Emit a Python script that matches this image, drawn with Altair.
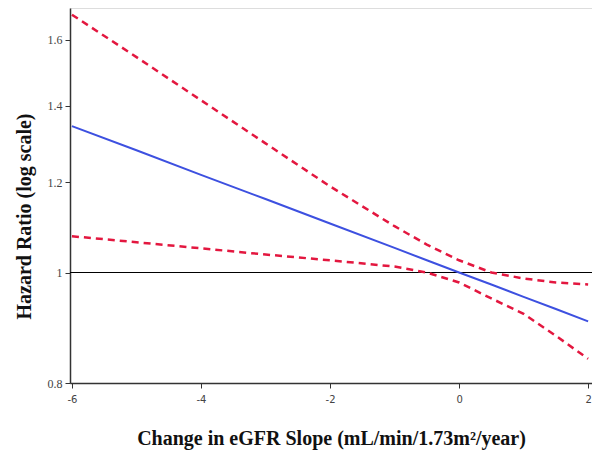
import altair as alt
import pandas as pd

# Values
x_vals = [-6, -5, -4, -3, -2, -1, -0.5, 0, 0.5, 1, 1.5, 2]
hr_est = [1.344, 1.280, 1.218, 1.160, 1.104, 1.051, 1.025, 1.0, 0.976, 0.952, 0.929, 0.906]
hr_upper = [1.683, 1.545, 1.416, 1.298, 1.190, 1.098, 1.058, 1.025, 1.0, 0.988, 0.980, 0.976]
hr_lower = [1.076, 1.063, 1.050, 1.037, 1.025, 1.012, 1.0, 0.980, 0.949, 0.920, 0.880, 0.840]

x_ticks = [-6, -4, -2, 0, 2]
y_ticks = [0.8, 1, 1.2, 1.4, 1.6]
ref_value = [1]

est_df = pd.DataFrame({"x": x_vals, "hr": hr_est})
ci_df = pd.concat([
    pd.DataFrame({"x": x_vals, "hr": hr_upper, "bound": "upper"}),
    pd.DataFrame({"x": x_vals, "hr": hr_lower, "bound": "lower"}),
])
ref_df = pd.DataFrame({"hr": ref_value})

x_scale = alt.Scale(domain=[-6.03, 2.06], nice=False, zero=False)
y_scale = alt.Scale(type="log", domain=[0.8, 1.706], nice=False, zero=False)

x_axis = alt.Axis(
    values=x_ticks, title="Change in eGFR Slope (mL/min/1.73m\u00b2/year)",
    labelExpr="toString(datum.value)",
    grid=False, tickSize=5, tickColor="#333", domainColor="#333", domainWidth=1.5,
    labelFont="DejaVu Sans", labelFontSize=10, labelColor="#444", labelPadding=6,
    titleFont="Liberation Serif", titleFontSize=20, titleFontWeight="bold", titleColor="#111",
    titleBaseline="alphabetic", titleY=61,
)
y_axis = alt.Axis(
    values=y_ticks, format="~g", title="Hazard Ratio (log scale)",
    grid=False, tickSize=5, tickColor="#333", domainColor="#333", domainWidth=1.5,
    labelFont="Liberation Serif", labelFontSize=12, labelColor="#444", labelPadding=3,
    titleFont="Liberation Serif", titleFontSize=20, titleFontWeight="bold", titleColor="#111",
    titleAngle=-90, titleBaseline="middle", titleAlign="center", titleX=-46, titleY=208,
)

ref = alt.Chart(ref_df).mark_rule(color="black", strokeWidth=1).encode(
    y=alt.Y("hr:Q", scale=y_scale, axis=y_axis)
)

ci = alt.Chart(ci_df).mark_line(color="#E3173F", strokeWidth=2.5, strokeDash=[7, 5]).encode(
    x=alt.X("x:Q", scale=x_scale, axis=x_axis),
    y=alt.Y("hr:Q", scale=y_scale, axis=y_axis),
    detail="bound:N",
)

est = alt.Chart(est_df).mark_line(color="#3D50E0", strokeWidth=2).encode(
    x=alt.X("x:Q", scale=x_scale, axis=x_axis),
    y=alt.Y("hr:Q", scale=y_scale, axis=y_axis),
)

chart = alt.layer(ref, ci, est).properties(
    width=522, height=375,
    autosize=alt.AutoSizeParams(type="none"),
    padding={"left": 62, "top": 0, "right": 0, "bottom": 70},
).configure_view(stroke="#333333", strokeWidth=1.5, strokeOpacity=1).configure(background="white")

chart.save("out.html", embed_options={"renderer": "svg", "actions": False})
